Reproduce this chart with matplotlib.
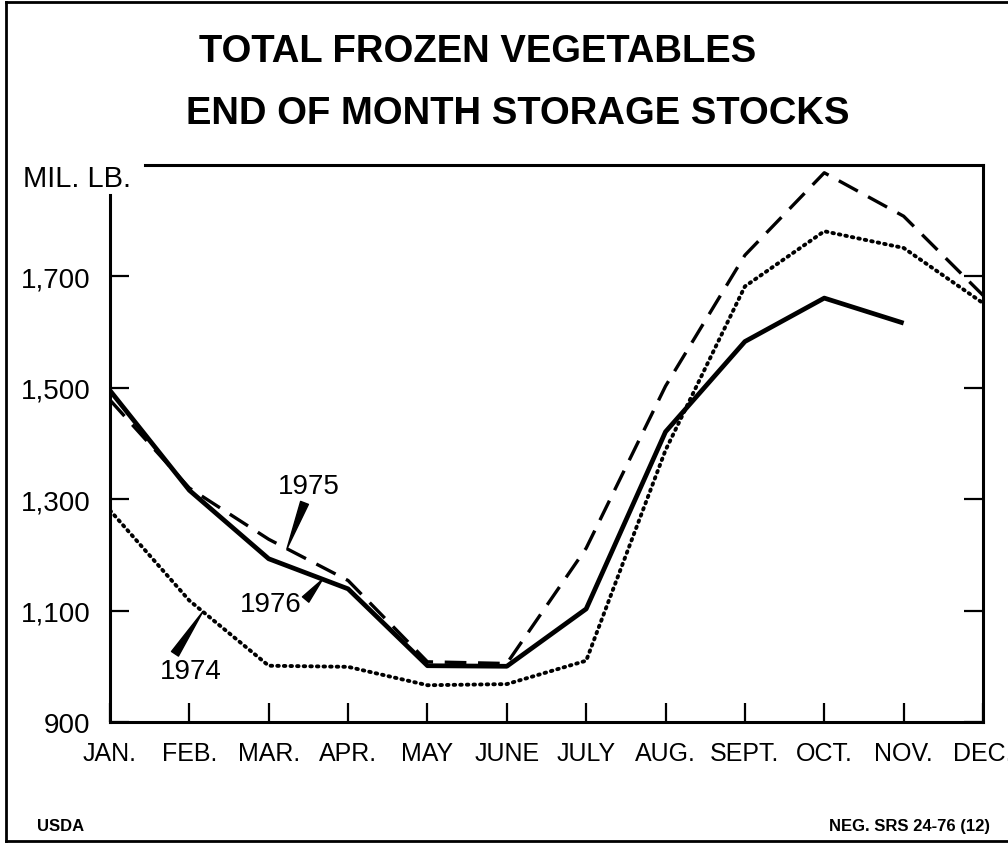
import numpy as np
import matplotlib.pyplot as plt

months = ["JAN.", "FEB.", "MAR.", "APR.", "MAY", "JUNE", "JULY",
          "AUG.", "SEPT.", "OCT.", "NOV.", "DEC."]
stocks_1974 = [1280, 1118, 1001, 999, 966, 968, 1010, 1388, 1682, 1781, 1751, 1652]
stocks_1975 = [1478, 1320, 1228, 1154, 1008, 1005, 1212, 1503, 1738, 1886, 1808, 1666]
stocks_1976 = [1495, 1316, 1193, 1139, 1001, 1000, 1103, 1421, 1583, 1661, 1616]
yticks = [900, 1100, 1300, 1500, 1700]

plt.rcParams['font.family'] = ['Liberation Sans', 'DejaVu Sans']

fig = plt.figure(figsize=(10.08, 8.45), dpi=100)
ax = fig.add_axes([0.1091, 0.1444, 0.8661, 0.6592])

x = np.arange(len(months))
ax.plot(x, stocks_1974, color='black', lw=2.8, linestyle=(0, (0.4, 1.3)),
        dash_capstyle='round')
ax.plot(x, stocks_1975, color='black', lw=2.4, linestyle=(0, (6.5, 3.5)))
ax.plot(x[:len(stocks_1976)], stocks_1976, color='black', lw=3.4,
        solid_joinstyle='round', solid_capstyle='butt')

ax.set_xlim(0, 11)
ax.set_ylim(900, 1900)
ax.set_xticks(x)
ax.set_xticklabels(months, fontsize=18)
ax.set_yticks(yticks)
ax.set_yticklabels([f"{v:,}" for v in yticks], fontsize=20)
ax.tick_params(axis='both', direction='in', length=14, width=1.6, color='black')
ax.tick_params(axis='y', right=True, pad=14)
ax.tick_params(axis='x', pad=14)

for s in ax.spines.values():
    s.set_linewidth(2.2)
ax.spines['left'].set_bounds(900, 1846)
ax.spines['top'].set_bounds(0.44, 11)

fig.text(23 / 1008, 1 - 179 / 845, "MIL. LB.", fontsize=21, ha='left', va='center')

# year labels with wedge pointers
def label(txt, tx, ty, px, series, rel):
    py = np.interp(px, x[:len(series)], series)
    ax.annotate(txt, xy=(px, py), xytext=(tx, ty), fontsize=20,
                ha='center', va='center',
                arrowprops=dict(arrowstyle='wedge,tail_width=0.3', color='black',
                                relpos=rel, shrinkA=1, shrinkB=0))

label("1975", 2.51, 1324, 2.23, stocks_1975, (0.45, 0.0))
label("1976", 2.03, 1112, 2.68, stocks_1976, (1.0, 0.5))
label("1974", 1.02, 992, 1.17, stocks_1974, (0.2, 1.0))

fig.text(478 / 1008, 1 - 52 / 845, "TOTAL FROZEN VEGETABLES", fontsize=27.5,
         fontweight='bold', ha='center', va='center')
fig.text(518 / 1008, 1 - 114 / 845, "END OF MONTH STORAGE STOCKS", fontsize=27.5,
         fontweight='bold', ha='center', va='center')
fig.text(37 / 1008, 1 - 827 / 845, "USDA", fontsize=12, fontweight='bold',
         ha='left', va='center')
fig.text(990 / 1008, 1 - 827 / 845, "NEG. SRS 24-76 (12)", fontsize=12,
         fontweight='bold', ha='right', va='center')

# outer frame
for xs, ys in [([0.006, 0.006], [0.004, 0.996]),
               ([0.006, 1.0], [0.996, 0.996]),
               ([0.006, 1.0], [0.004, 0.004])]:
    fig.add_artist(plt.Line2D(xs, ys, transform=fig.transFigure,
                              color='black', lw=2))

fig.savefig("out.png", dpi=100)
